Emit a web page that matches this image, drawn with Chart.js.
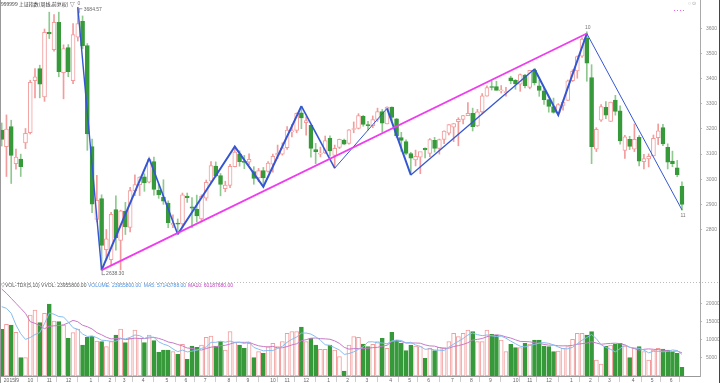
<!DOCTYPE html>
<html><head><meta charset="utf-8">
<script src="https://cdn.jsdelivr.net/npm/chart.js@4.4.1/dist/chart.umd.min.js"></script>
<style>
html,body{margin:0;padding:0;background:#fff;overflow:hidden}
#wrap{position:relative;width:720px;height:383px;background:#fff}
#c1{position:absolute;left:0;top:0}
#c2{position:absolute;left:0;top:282px}
</style></head><body>
<div id="wrap"><canvas id="c1" width="720" height="282"></canvas><canvas id="c2" width="720" height="101"></canvas></div>
<script>
// ---- weekly OHLC (index 0 = 2015/9 first week) ----
const opens=[3196,3130,3210,3062,3080,3145,3185,3392,3440,3328,3585,3516,3625,3424,3524,3392,3565,3629,3532,3130,2840,2923,2720,2680,2879,2756,2872,2808,2954,2978,3010,2988,3070,2956,2928,2905,2818,2826,2822,2933,2890,2880,2842,2925,2992,3052,3015,2962,2975,3050,3100,3068,3068,3030,3005,3034,3031,3060,3096,3100,3126,3188,3194,3264,3225,3215,3118,3100,3105,3163,3095,3127,3156,3143,3198,3202,3250,3218,3213,3238,3269,3220,3287,3240,3166,3150,3102,3077,3088,3123,3103,3155,3123,3158,3183,3207,3229,3238,3253,3262,3212,3268,3331,3369,3369,3352,3345,3404,3394,3378,3415,3365,3433,3372,3352,3317,3289,3264,3294,3314,3392,3431,3490,3563,3405,3120,3235,3286,3230,3315,3272,3115,3159,3120,3167,3070,3081,3093,3165,3206,3127,3072,3045,2972];
const highs=[3224,3256,3235,3120,3100,3202,3394,3440,3454,3598,3665,3655,3665,3535,3536,3620,3684.57,3650,3540,3160,3016,2938,2800,2868,2934,2877,2908,2968,3018,3010,3022,3088,3088,2980,2998,2914,2858,2842,2945,2945,2927,2937,2938,2997,3070,3069,3023,2992,3059,3130,3113,3095,3101,3050,3043,3047,3070,3100,3136,3145,3210,3219,3264,3291,3249,3216,3143,3128,3172,3173,3136,3160,3160,3198,3228,3261,3254,3230,3252,3283,3278,3288,3288,3242,3187,3157,3107,3116,3098,3125,3162,3167,3160,3193,3218,3222,3245,3254,3305,3283,3278,3341,3372,3391,3390,3373,3366,3410,3397,3419,3418,3433,3440,3395,3364,3317,3323,3301,3310,3395,3436,3491,3563,3587,3456,3205,3297,3309,3307,3334,3292,3175,3171,3220,3174,3099,3101,3176,3220,3219,3141,3112,3075,2990];
const lows=[3132,3011,2983,3040,3011,3122,3180,3324,3324,3310,3560,3510,3408,3320,3408,3380,3550,3520,3115,2867,2830,2638.3,2683,2660,2718,2639,2780,2790,2935,2935,2952,2985,2937,2924,2900,2807,2807,2781,2807,2908,2807,2830,2830,2916,2985,3009,2934,2950,2966,3049,3052,3042,3058,2980,2990,2970,3028,3028,3082,3096,3119,3168,3185,3201,3175,3088,3062,3089,3102,3092,3044,3122,3138,3140,3185,3200,3211,3196,3205,3230,3187,3220,3232,3165,3111,3097,3017,3053,3022,3085,3090,3108,3100,3142,3176,3150,3133,3220,3253,3192,3210,3260,3331,3355,3355,3343,3331,3380,3358,3350,3363,3360,3375,3330,3298,3267,3263,3255,3275,3314,3389,3402,3485,3390,3062,3110,3230,3241,3230,3255,3140,3083,3118,3110,3053,3041,3049,3092,3138,3134,3041,3050,3010,2877];
const closes=[3158,3200,3095,3088,3050,3183,3386,3408,3378,3585,3578,3625,3428,3520,3428,3576,3620,3532,3180,2901,2916,2737,2763,2860,2767,2874,2810,2955,2979,3009,2985,3078,2959,2938,2913,2827,2825,2821,2938,2927,2885,2854,2932,2988,3054,3013,2979,2977,3051,3108,3070,3067,3079,3003,3034,3005,3064,3091,3104,3125,3196,3193,3262,3244,3233,3123,3110,3104,3154,3113,3123,3159,3140,3197,3202,3253,3218,3213,3237,3269,3223,3287,3246,3173,3155,3103,3084,3091,3110,3117,3158,3123,3158,3192,3218,3222,3238,3253,3262,3209,3268,3332,3365,3365,3354,3353,3349,3391,3379,3417,3372,3433,3383,3354,3317,3290,3266,3297,3307,3392,3429,3488,3558,3462,3130,3199,3289,3255,3307,3270,3153,3169,3131,3159,3072,3082,3091,3163,3193,3141,3068,3062,3018,2900];
// ---- weekly volume (x10000) ----
const volumes=[12960,14350,14170,12130,5090,5090,16950,18340,14820,17410,20000,15280,15090,14170,10460,12040,13060,8610,10740,11110,9720,9540,8150,9540,11390,13060,9260,10460,12780,10460,9260,11390,9820,6580,7220,7220,6760,6020,8800,4630,8330,7960,8610,10740,11110,8330,9540,7220,12320,9260,8610,7690,9080,5090,6760,6300,8150,9080,8150,9540,11850,12320,12320,13610,9540,10460,8610,7410,7410,8610,7220,5370,1390,8610,10930,10740,8890,8150,8800,9540,10460,7690,12130,10000,9080,7040,8610,8330,8150,4910,7690,7040,7960,7870,9540,11850,10930,11850,12780,12320,9540,9540,12780,11580,11390,10000,6760,8800,7870,7870,9080,8890,10000,10000,8330,8150,6760,6950,7690,8150,10190,11850,11850,11390,12320,4450,3330,8330,8610,8800,9080,8330,5090,7690,8150,6760,4450,7220,7690,7500,7220,6580,6300,2396];
// MA values before enough history
const ma5Head=[19260,18800,17410,14170];
const ma10Head=[24170,22970,21580,20190,18800,17410,15090,14630,13980];
// ---- zigzag & trend line ----
const zigIdx=[16,21,31,37,49,55,63,70,81,86,112,117,123,143];
const zigVal=[3684.57,2638.3,3083,2781,3130,2970,3291,3044,3282,3017,3439,3256,3580,2878];
const zigWidths=[1.4,2,1.6,2,2,2,1.6,1,2,1.3,2,2,1];
const trendIdx=[21,123];
const trendVal=[2638.3,3580];
// ---- ticks ----
const priceTicks=[2800,2900,3000,3100,3200,3300,3400,3500,3600];
const volTicks=[5000,10000,15000,20000];
const monthTickIdx=[0,5,9,13,18,22,25,29,34,38,42,47,51,56,59,63,68,72,76,81,85,89,94,98,102,107,110,114,119,123,127,132,136,140];
const monthTickLabels=['2015/9','10','11','12','1','2','3','4','5','6','7','8','9','10','11','12','1','2','3','4','5','6','7','8','9','10','11','12','1','2','3','4','5','6'];
// ---- texts ----
const titleText='999999 上证指数(周线,前复权) ▽';
const highLabel='3684.57', lowLabel='2638.30';
const highIdx=16, lowIdx=21;
const waveLabels=[{i:16,v:3684.57,t:'0',dy:-4},{i:123,v:3587,t:'10',dy:-4},{i:143,v:2878,t:'11',dy:6}];
const volHeader=[{t:'▽VOL-TDX(5,10) VVOL: 23955800.00',c:'#555',x:1},{t:'VOLUME: 23955800.00  MA5: 57143788.00',c:'#4a90e0',x:88},{t:'MA10: 60187680.00',c:'#c040c0',x:188}];

const X_MIN=-0.357, X_MAX=146.79;
const Y_MIN=2591.0, Y_MAX=3713.4;
const V_MAX=26111;
const UP='#f29c9c', DOWN='#36993a', DOWN_WICK='#8fc98f';
const FONT='"Liberation Sans", sans-serif';
const N=closes.length;
const isUp=closes.map((c,i)=>c>=opens[i]);

function ma(arr,n,head){return arr.map((_,i)=>i<head.length?head[i]:arr.slice(i-n+1,i+1).reduce((a,b)=>a+b,0)/n);}
function noPad(s){s.paddingTop=0;s.paddingBottom=0;s.paddingLeft=0;s.paddingRight=0;}

const annot={id:'annot',afterDraw(chart){
  const {ctx,scales:{x,y}}=chart;
  ctx.save();
  ctx.textBaseline='middle';
  ctx.font='5px "Noto Sans CJK SC", sans-serif';
  ctx.fillStyle='#333';ctx.textAlign='left';
  ctx.fillText(titleText,1,4);
  ctx.font='5px '+FONT;
  ctx.fillStyle='#777';ctx.textAlign='center';
  waveLabels.forEach(w=>{ctx.fillText(w.t,x.getPixelForValue(w.i)+1,y.getPixelForValue(w.v)+w.dy);});
  ctx.strokeStyle='#888';ctx.lineWidth=0.8;ctx.textAlign='left';ctx.fillStyle='#666';
  let hx=x.getPixelForValue(highIdx)+1.5, hy=y.getPixelForValue(3684.57);
  ctx.beginPath();ctx.moveTo(hx,hy+1);ctx.lineTo(hx,hy+6);ctx.moveTo(hx,hy+1.5);ctx.lineTo(hx+3,hy+1.5);ctx.stroke();
  ctx.fillText(highLabel,hx+4.5,hy+2.5);
  let lx=x.getPixelForValue(lowIdx)+0.5, ly=y.getPixelForValue(2638.3);
  ctx.beginPath();ctx.moveTo(lx,ly);ctx.lineTo(lx,ly+5);ctx.moveTo(lx,ly+4.5);ctx.lineTo(lx+3,ly+4.5);ctx.stroke();
  ctx.fillText(lowLabel,lx+4,ly+4);
  ctx.strokeStyle='#e040e0';ctx.setLineDash([1,2]);ctx.beginPath();ctx.moveTo(674,10.5);ctx.lineTo(685,10.5);ctx.stroke();ctx.setLineDash([]);
  ctx.fillStyle='#999';ctx.fillText('○ ⊙',688,4);
  ctx.strokeStyle='#999';ctx.lineWidth=1;
  ctx.beginPath();ctx.moveTo(0.5,0);ctx.lineTo(0.5,282);ctx.stroke();
  ctx.strokeStyle='#444';ctx.beginPath();ctx.moveTo(719.5,0);ctx.lineTo(719.5,282);ctx.stroke();
  ctx.restore();
}};

const annot2={id:'annot2',afterDraw(chart){
  const {ctx}=chart;
  ctx.save();
  ctx.font='5px '+FONT;ctx.textBaseline='middle';ctx.textAlign='left';
  volHeader.forEach(h=>{ctx.fillStyle=h.c;ctx.fillText(h.t,h.x,3.5);});
  ctx.strokeStyle='#bbb';ctx.lineWidth=1;ctx.setLineDash([1,2]);
  ctx.beginPath();ctx.moveTo(0,0.5);ctx.lineTo(720,0.5);ctx.stroke();ctx.setLineDash([]);
  ctx.strokeStyle='#999';ctx.beginPath();ctx.moveTo(0.5,0);ctx.lineTo(0.5,101);ctx.stroke();
  ctx.strokeStyle='#444';ctx.beginPath();ctx.moveTo(719.5,0);ctx.lineTo(719.5,101);ctx.stroke();
  ctx.restore();
}};

const common={responsive:false,animation:false,devicePixelRatio:1,layout:{padding:0},
  plugins:{legend:{display:false},tooltip:{enabled:false}}};

new Chart(document.getElementById('c1'),{
  type:'bar',
  data:{datasets:[
    {type:'line',data:trendIdx.map((v,i)=>({x:v,y:trendVal[i]})),borderColor:'#ee3cee',borderWidth:1.8,pointRadius:0,order:0},
    {type:'line',data:zigIdx.map((v,i)=>({x:v,y:zigVal[i]})),borderColor:'#3556d2',borderWidth:2,pointRadius:0,order:0,
      segment:{borderWidth:ctx=>zigWidths[ctx.p0DataIndex]}},
    {data:opens.map((o,i)=>({x:i,y:[o,closes[i]]})),backgroundColor:isUp.map(u=>u?'#fff':DOWN),
      borderColor:isUp.map(u=>u?UP:DOWN),borderWidth:1,borderSkipped:false,barThickness:4,grouped:false,minBarLength:1,order:1},
    {data:lows.map((l,i)=>({x:i,y:[l,highs[i]]})),backgroundColor:isUp.map(u=>u?UP:DOWN_WICK),
      borderWidth:0,barThickness:1,grouped:false,order:2}
  ]},
  options:Object.assign({},common,{scales:{
    x:{type:'linear',min:X_MIN,max:X_MAX,display:false,offset:false},
    y:{position:'right',min:Y_MIN,max:Y_MAX,
      afterFit:s=>{s.width=20;noPad(s);},
      afterBuildTicks:s=>{s.ticks=priceTicks.map(v=>({value:v}));},
      ticks:{callback:v=>String(v),font:{size:5,family:FONT},color:'#888',padding:4},
      grid:{drawOnChartArea:false,tickLength:2,color:'#bbb'},
      border:{display:true,color:'#aaa'}}
  }}),
  plugins:[annot]
});

new Chart(document.getElementById('c2'),{
  type:'bar',
  data:{datasets:[
    {type:'line',data:ma(volumes,5,ma5Head).map((v,i)=>({x:i,y:v})),borderColor:'#86bdf0',borderWidth:1,pointRadius:0,order:0},
    {type:'line',data:ma(volumes,10,ma10Head).map((v,i)=>({x:i,y:v})),borderColor:'#c77ac7',borderWidth:1,pointRadius:0,order:0},
    {data:volumes.map((v,i)=>({x:i,y:v})),backgroundColor:isUp.map(u=>u?'#fff':DOWN),
      borderColor:isUp.map(u=>u?UP:DOWN),borderWidth:1,borderSkipped:false,barThickness:4,grouped:false,order:1}
  ]},
  options:Object.assign({},common,{scales:{
    x:{type:'linear',min:X_MIN,max:X_MAX,offset:false,position:'bottom',
      afterFit:s=>{s.height=7;noPad(s);},
      afterBuildTicks:s=>{s.ticks=monthTickIdx.map(v=>({value:v+0.45}));},
      ticks:{callback:(v,i)=>monthTickLabels[i],font:{size:5,family:FONT},color:'#666',padding:-4.5,align:'start',
        autoSkip:false,maxRotation:0,minRotation:0},
      grid:{drawOnChartArea:false,tickLength:6,color:'#ccc'},
      border:{display:true,color:'#999'}},
    y:{position:'right',min:0,max:V_MAX,
      afterFit:s=>{s.width=20;noPad(s);},
      afterBuildTicks:s=>{s.ticks=volTicks.map(v=>({value:v}));},
      ticks:{callback:v=>String(v),font:{size:5,family:FONT},color:'#888',padding:4},
      grid:{drawOnChartArea:false,tickLength:2,color:'#bbb'},
      border:{display:true,color:'#aaa'}}
  }}),
  plugins:[annot2]
});
</script>
</body></html>
